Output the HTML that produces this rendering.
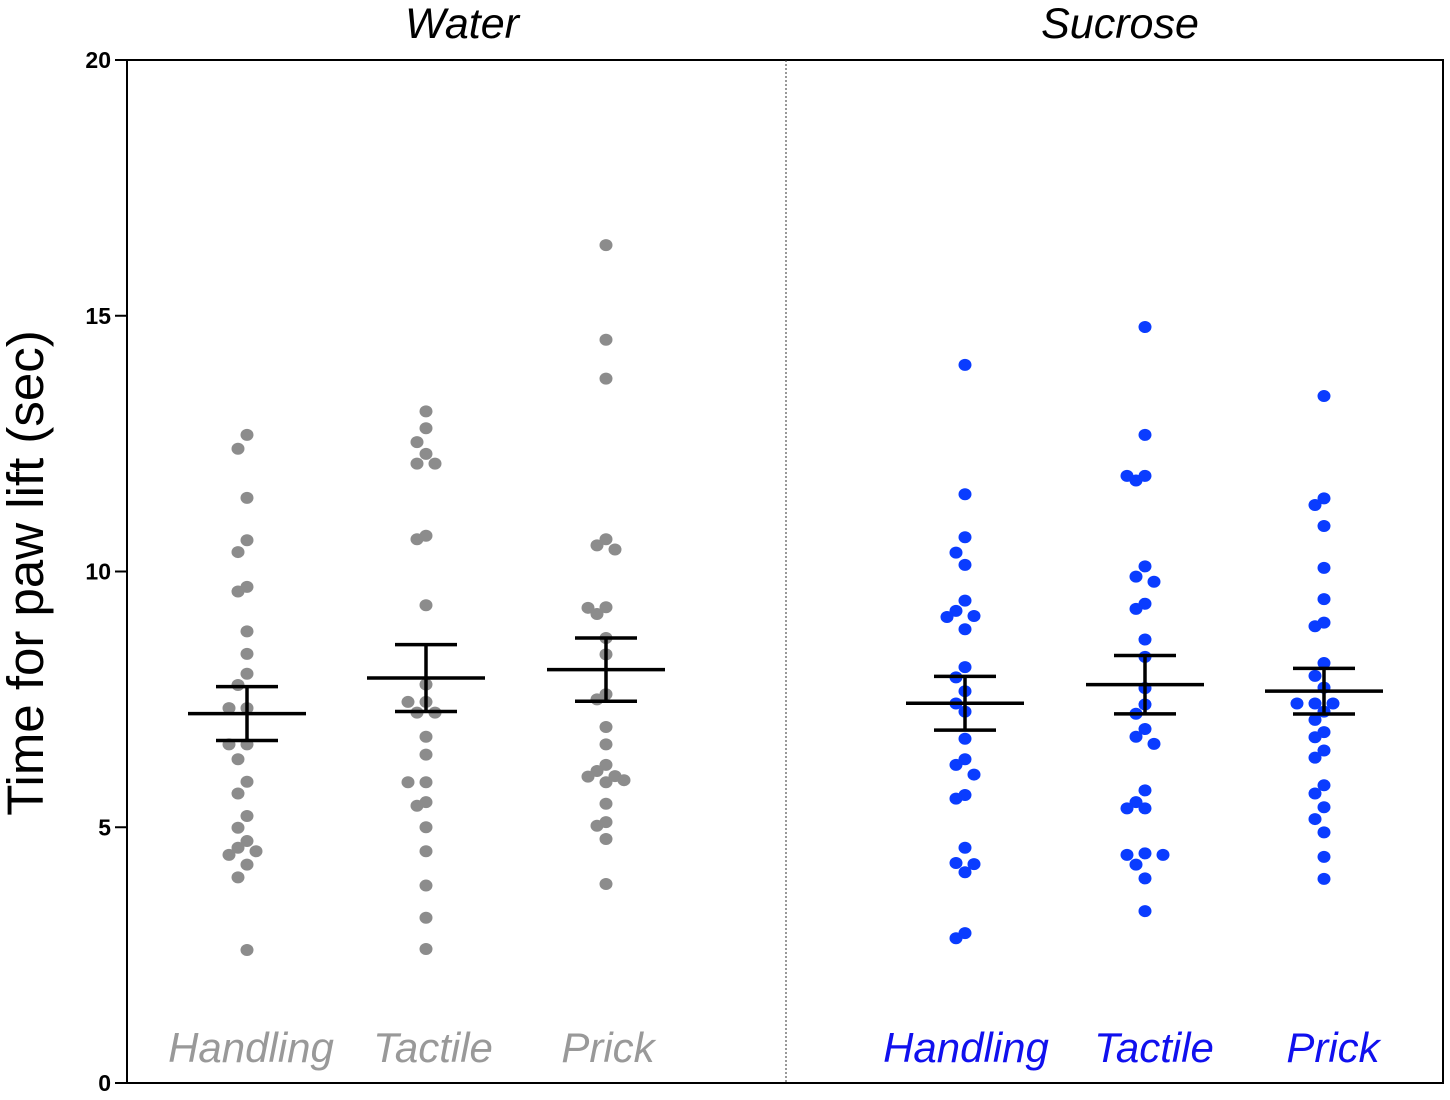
<!DOCTYPE html>
<html><head><meta charset="utf-8">
<style>
html,body{margin:0;padding:0;background:#fff;}
svg{display:block;}
</style></head>
<body>
<svg id="chart" width="1450" height="1100" xmlns="http://www.w3.org/2000/svg">
  <g id="axes"></g>
  <g id="marks"></g>
</svg>
<script>
const categories = ["Handling","Tactile","Prick","Handling","Tactile","Prick"];
const panels = ["Water","Water","Water","Sucrose","Sucrose","Sucrose"];
const waterHandling = [12.67,12.40,11.44,10.61,10.38,9.61,9.70,8.83,8.39,8.00,7.78,7.33,7.33,6.62,6.62,6.33,5.89,5.66,5.22,4.99,4.73,4.60,4.46,4.53,4.27,4.02,2.60];
const waterTactile = [13.13,12.80,12.53,12.30,12.11,12.11,10.70,10.63,9.34,7.79,7.45,7.45,7.24,7.24,6.77,6.42,5.88,5.88,5.49,5.42,5.00,4.53,3.86,3.23,2.62];
const waterPrick = [16.38,14.53,13.77,10.63,10.43,10.51,9.29,9.17,9.30,8.70,8.38,7.60,7.50,6.96,6.62,6.22,6.00,5.92,5.88,5.99,6.10,5.46,5.03,5.10,4.77,3.89];
const sucroseHandling = [14.04,11.51,10.67,10.37,10.13,9.43,9.23,9.11,9.13,8.87,8.13,7.93,7.66,7.42,7.26,6.73,6.33,6.22,6.03,5.63,5.56,4.60,4.28,4.30,4.12,2.93,2.83];
const sucroseTactile = [14.78,12.67,11.87,11.87,11.78,10.10,9.90,9.80,9.37,9.27,8.67,8.33,7.72,7.40,7.22,6.92,6.77,6.63,5.72,5.49,5.37,5.37,4.49,4.46,4.46,4.27,4.00,3.36];
const sucrosePrick = [13.43,11.43,11.30,10.89,10.07,9.46,9.00,8.93,8.21,7.96,7.73,7.42,7.42,7.42,7.26,7.10,6.86,6.76,6.50,6.36,5.82,5.66,5.39,5.16,4.90,4.42,3.99];
const yTicks = [0,5,10,15,20];

const series = [waterHandling,waterTactile,waterPrick,sucroseHandling,sucroseTactile,sucrosePrick];
const NS = "http://www.w3.org/2000/svg";
const plot = {left:127, right:1443, top:60, bottom:1083};
const yMin = 0, yMax = 20;
function yScale(v){ return plot.bottom - (v - yMin)/(yMax - yMin)*(plot.bottom - plot.top); }
const groupCenters = [247,426,606,965,1145,1324];
function xScale(i){ return groupCenters[i]; }

function mk(tag, attrs, parent){
  const e = document.createElementNS(NS, tag);
  for (const k in attrs) e.setAttribute(k, attrs[k]);
  parent.appendChild(e);
  return e;
}
const axes = document.getElementById('axes');
const marks = document.getElementById('marks');

let fr = mk('rect',{x:plot.left,y:plot.top,width:plot.right-plot.left,height:plot.bottom-plot.top,fill:'none',stroke:'#000','stroke-width':2},axes);


let dv = mk('line',{x1:786,x2:786,y1:plot.top,y2:plot.bottom,stroke:'#333','stroke-width':1,'stroke-dasharray':'2,2'},axes);



yTicks.forEach(t=>{
  const y = yScale(t);
  const l = mk('line',{x1:115,x2:plot.left,y1:y,y2:y,stroke:'#000','stroke-width':2},axes);
  
  
  const tx = mk('text',{x:111,y:y+8,'text-anchor':'end','font-family':'Liberation Sans, sans-serif','font-size':23,'font-weight':'bold'},axes);
  tx.textContent = t;
  
  
});
const yt = mk('text',{x:0,y:0,transform:'translate(43,573) rotate(-90)','text-anchor':'middle','font-family':'Liberation Sans, sans-serif','font-size':51},axes);
yt.textContent = 'Time for paw lift (sec)';



[["Water",462],["Sucrose",1120]].forEach(p=>{
  const t = mk('text',{x:p[1],y:38,'text-anchor':'middle','font-family':'Liberation Sans, sans-serif','font-size':43,'font-style':'italic'},axes);
  t.textContent = p[0];
  
  
});

const labelX = [251,433,608,966,1154,1333];
categories.forEach((c,i)=>{
  const t = mk('text',{x:labelX[i],y:1062,'text-anchor':'middle','font-family':'Liberation Sans, sans-serif','font-size':42,'font-style':'italic',fill: panels[i]==='Water' ? '#999999' : '#1010ee'},axes);
  t.textContent = c;
  
  
});

series.forEach((vals,i)=>{
  const cx = xScale(i);
  const color = panels[i]==='Water' ? '#8c8c8c' : '#0a3cff';
  const sorted = vals.slice().sort((a,b)=>b-a);
  const placed = [];
  sorted.forEach(v=>{
    const y = yScale(v);
    let off = 0;
    for (let k=0;k<40;k++){
      const cand = k===0?0:(k%2? -1:1)*Math.ceil(k/2)*9;
      const ok = placed.every(p=> !(Math.abs(p.x-cand)<5 && Math.abs(p.y-y)<16) && !(Math.abs(p.x-cand)<10 && Math.abs(p.y-y)<3));
      if (ok){ off=cand; break; }
    }
    placed.push({x:off,y:y});
    const d = mk('ellipse',{cx:cx+off,cy:y,rx:6.5,ry:6,fill:color},marks);
    
    
  });
  const n = vals.length;
  const mean = vals.reduce((a,b)=>a+b,0)/n;
  const sd = Math.sqrt(vals.reduce((a,b)=>a+(b-mean)*(b-mean),0)/(n-1));
  const sem = sd/Math.sqrt(n);
  const ym = yScale(mean), yh = yScale(mean+sem), yl = yScale(mean-sem);
  const ml = mk('line',{x1:cx-59,x2:cx+59,y1:ym,y2:ym,stroke:'#000','stroke-width':3.5},marks);
  
  
  const vl = mk('line',{x1:cx,x2:cx,y1:yh,y2:yl,stroke:'#000','stroke-width':3.5},marks);
  
  
  [yh,yl].forEach(yy=>{
    const c = mk('line',{x1:cx-31,x2:cx+31,y1:yy,y2:yy,stroke:'#000','stroke-width':3.5},marks);
    
    
  });
});
</script>
</body></html>
